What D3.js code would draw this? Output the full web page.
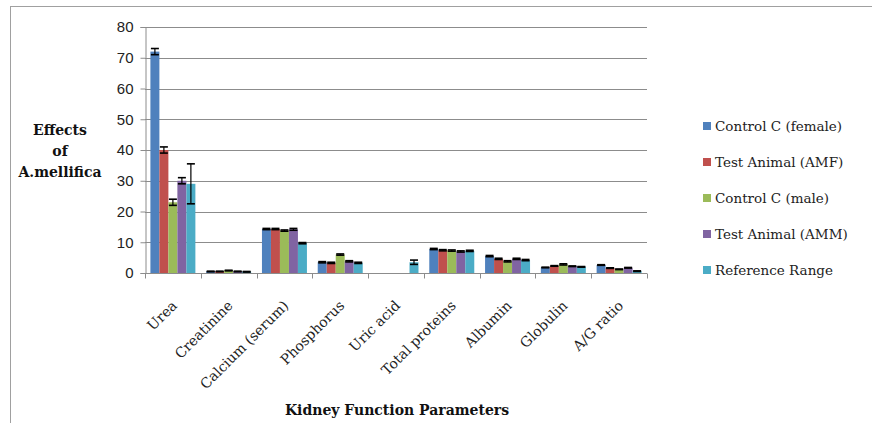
<!DOCTYPE html>
<html lang="en">
  <head>
    <meta charset="utf-8">
    <title>Kidney Function Parameters</title>
    <script src="https://d3js.org/d3.v7.min.js"></script>
    <style>
      body { margin: 0; background: #fff; }
    </style>
  </head>
  <body>
    <div id="chart"></div>
    <script>
      // chart values
      var categories = ["Urea", "Creatinine", "Calcium (serum)", "Phosphorus", "Uric acid",
                        "Total proteins", "Albumin", "Globulin", "A/G ratio"];
      var seriesNames = ["Control  C (female)", "Test Animal (AMF)", "Control  C (male)",
                         "Test Animal (AMM)", "Reference  Range"];
      var controlFemale = [72, 0.5, 14.3, 3.5, 0, 7.8, 5.5, 1.8, 2.6];
      var testAMF       = [40, 0.5, 14.3, 3.3, 0, 7.4, 4.6, 2.3, 1.6];
      var controlMale   = [23, 0.8, 13.8, 6.0, 0, 7.3, 3.8, 2.8, 1.2];
      var testAMM       = [30, 0.5, 14.2, 3.8, 0, 7.0, 4.6, 2.2, 1.7];
      var refRange      = [29, 0.4, 9.7, 3.3, 3.5, 7.2, 4.2, 2.0, 0.6];
      var errFemale = [1, 0.1, 0.2, 0.2, 0, 0.2, 0.2, 0.1, 0.1];
      var errAMF    = [1, 0.1, 0.2, 0.2, 0, 0.2, 0.2, 0.1, 0.1];
      var errMale   = [1, 0.1, 0.2, 0.2, 0, 0.2, 0.2, 0.2, 0.1];
      var errAMM    = [1, 0.1, 0.3, 0.2, 0, 0.2, 0.2, 0.1, 0.1];
      var errRef    = [6.5, 0.1, 0.2, 0.2, 0.7, 0.2, 0.2, 0.1, 0.1];
      var yTicks = [0, 10, 20, 30, 40, 50, 60, 70, 80];
      var colors = ["#4F81BD", "#C0504D", "#9BBB59", "#8064A2", "#4BACC6"];

      var series = [controlFemale, testAMF, controlMale, testAMM, refRange];
      var errors = [errFemale, errAMF, errMale, errAMM, errRef];

      var serif = "'DejaVu Serif', Georgia, serif";
      var W = 872, H = 423;
      var svg = d3.select("#chart").append("svg")
        .attr("width", W).attr("height", H);

      // outer frame (clipped on right and bottom like the picture)
      svg.append("rect")
        .attr("x", 10.5).attr("y", 6.5)
        .attr("width", 900).attr("height", 500)
        .attr("fill", "none").attr("stroke", "#a0a0a0");

      var x0 = d3.scaleBand().domain(categories).range([145, 647]).paddingInner(0).paddingOuter(0);
      var x1 = d3.scaleBand().domain(d3.range(5)).range([0, x0.bandwidth()]).paddingInner(0).paddingOuter(0.6);
      var y = d3.scaleLinear().domain([0, 80]).range([273, 27]);

      // gridlines
      svg.append("g").selectAll("line")
        .data(yTicks.filter(d => d > 0))
        .enter().append("line")
          .attr("x1", 145).attr("x2", 647)
          .attr("y1", d => Math.round(y(d)) + 0.5).attr("y2", d => Math.round(y(d)) + 0.5)
          .attr("stroke", "#8c8c8c");

      // y axis
      var yAxis = d3.axisLeft(y).tickValues(yTicks).tickSize(5).tickPadding(7);
      var gy = svg.append("g").attr("transform", "translate(145.5,0)").call(yAxis);
      gy.select(".domain").attr("stroke", "#8c8c8c");
      gy.selectAll(".tick line").attr("stroke", "#8c8c8c");
      gy.selectAll("text")
        .style("font-family", "'Liberation Sans', Arial, sans-serif")
        .style("font-size", "15px").attr("fill", "#222");

      // bars
      var groups = svg.append("g").selectAll("g")
        .data(categories)
        .enter().append("g")
          .attr("transform", d => "translate(" + x0(d) + ",0)");

      groups.selectAll("rect")
        .data((d, i) => series.map((s, k) => ({k: k, v: s[i], e: errors[k][i]})))
        .enter().append("rect")
          .attr("x", d => x1(d.k))
          .attr("y", d => y(d.v))
          .attr("width", x1.bandwidth())
          .attr("height", d => y(0) - y(d.v))
          .attr("fill", d => colors[d.k]);

      // error bars
      var eb = groups.selectAll("g.err")
        .data((d, i) => series.map((s, k) => ({k: k, v: s[i], e: errors[k][i]})).filter(d => d.v > 0))
        .enter().append("g").attr("class", "err");
      eb.append("line")
        .attr("x1", d => x1(d.k) + x1.bandwidth() / 2)
        .attr("x2", d => x1(d.k) + x1.bandwidth() / 2)
        .attr("y1", d => y(d.v - d.e)).attr("y2", d => y(d.v + d.e))
        .attr("stroke", "#000").attr("stroke-width", 1.2);
      [-1, 1].forEach(function(sg) {
        eb.append("line")
          .attr("x1", d => x1(d.k) + 0.5)
          .attr("x2", d => x1(d.k) + x1.bandwidth() - 0.5)
          .attr("y1", d => y(d.v + sg * d.e)).attr("y2", d => y(d.v + sg * d.e))
          .attr("stroke", "#000").attr("stroke-width", 1.6);
      });

      // x axis
      var gx = svg.append("g").attr("transform", "translate(0,273.5)");
      gx.append("line").attr("x1", 145).attr("x2", 647)
        .attr("stroke", "#8c8c8c");
      gx.selectAll("line.tk")
        .data(d3.range(10))
        .enter().append("line").attr("class", "tk")
          .attr("x1", d => Math.round(145 + d * x0.bandwidth()) + 0.5)
          .attr("x2", d => Math.round(145 + d * x0.bandwidth()) + 0.5)
          .attr("y1", 0).attr("y2", 5)
          .attr("stroke", "#8c8c8c");
      gx.selectAll("text")
        .data(categories)
        .enter().append("text")
          .attr("transform", d => "translate(" + (x0(d) + x0.bandwidth() / 2 + 5) + ",33)rotate(-45)")
          .attr("text-anchor", "end")
          .style("font-family", serif)
          .style("font-size", "14px")
          .attr("fill", "#222")
          .text(d => d);

      // axis titles
      svg.append("text")
        .attr("x", 397).attr("y", 415)
        .attr("text-anchor", "middle")
        .style("font-family", serif)
        .style("font-size", "14px").style("font-weight", "bold")
        .attr("fill", "#111")
        .text("Kidney Function  Parameters");

      var yt = svg.append("text")
        .attr("text-anchor", "middle")
        .style("font-family", serif)
        .style("font-size", "14px").style("font-weight", "bold")
        .attr("fill", "#111");
      ["Effects", "of", "A.mellifica"].forEach(function(t, i) {
        yt.append("tspan").attr("x", 60).attr("y", 135 + i * 21).text(t);
      });

      // legend
      var lg = svg.append("g").selectAll("g")
        .data(seriesNames)
        .enter().append("g")
          .attr("transform", (d, i) => "translate(703," + (131 + i * 36) + ")");
      lg.append("rect")
        .attr("x", 0).attr("y", -9).attr("width", 8).attr("height", 8)
        .attr("fill", (d, i) => colors[i]);
      lg.append("text")
        .attr("x", 12).attr("y", 0)
        .style("font-family", serif)
        .style("font-size", "13.5px")
        .attr("fill", "#222")
        .text(d => d);
    </script>
  </body>
</html>
